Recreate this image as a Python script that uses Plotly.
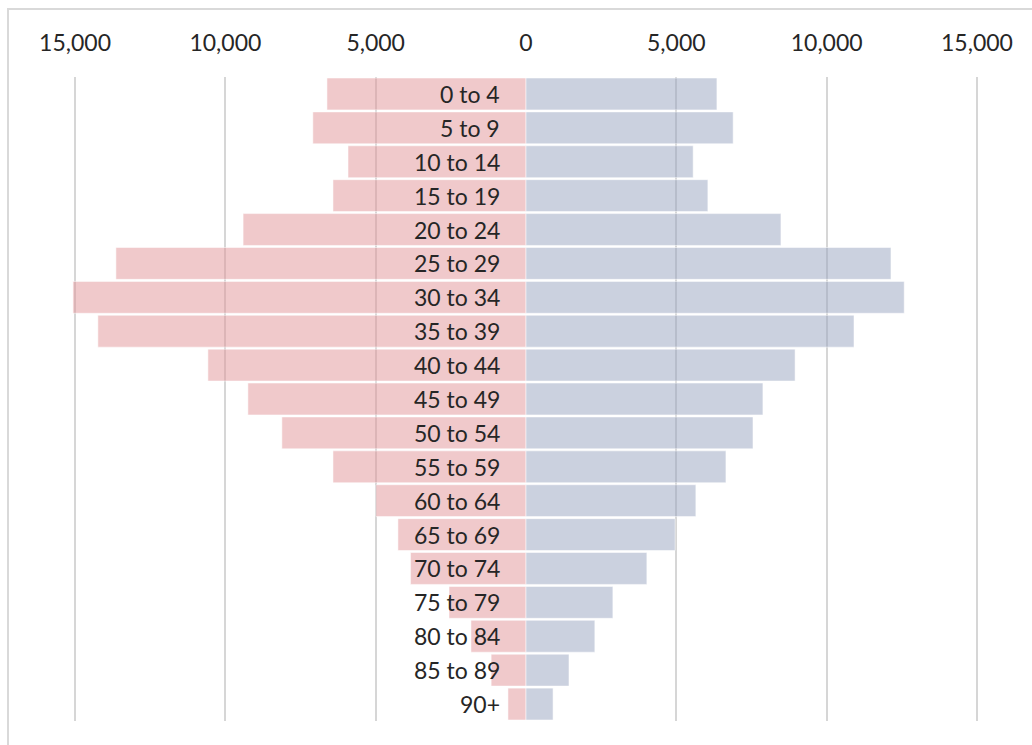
import plotly.graph_objects as go

# Age groups, youngest at the top
age_groups = ["0 to 4", "5 to 9", "10 to 14", "15 to 19", "20 to 24", "25 to 29",
              "30 to 34", "35 to 39", "40 to 44", "45 to 49", "50 to 54", "55 to 59",
              "60 to 64", "65 to 69", "70 to 74", "75 to 79", "80 to 84", "85 to 89", "90+"]

# Population counts per age group
female = [6620, 7090, 5920, 6420, 9410, 13640, 15070, 14240, 10580, 9250,
          8120, 6420, 4990, 4260, 3840, 2560, 1830, 1160, 600]
male = [6350, 6890, 5560, 6050, 8480, 12140, 12580, 10910, 8950, 7880,
        7550, 6650, 5650, 4960, 4020, 2890, 2290, 1430, 900]

# Axis ticks (left side shown as positive numbers)
tick_values = [-15000, -10000, -5000, 0, 5000, 10000, 15000]
tick_labels = ["15,000", "10,000", "5,000", "0", "5,000", "10,000", "15,000"]

FONT = "Lato"
TEXT = "#262626"
GRID = "#d6d6d6"

fig = go.Figure()
fig.add_trace(go.Bar(
    y=age_groups, x=[-v for v in female], orientation="h", name="Female",
    marker=dict(color="rgba(225,147,151,0.5)",
                line=dict(color="rgba(255,255,255,0.5)", width=1)),
))
fig.add_trace(go.Bar(
    y=age_groups, x=male, orientation="h", name="Male",
    marker=dict(color="rgba(151,163,191,0.5)",
                line=dict(color="rgba(255,255,255,0.5)", width=1)),
))

# Age labels sit just left of the centre line, over the bars
for g in age_groups:
    fig.add_annotation(x=0, y=g, xref="x", yref="y", text=g, showarrow=False,
                       xanchor="right", yanchor="middle", xshift=-24,
                       font=dict(family=FONT, size=23, color=TEXT))

# Chart frame
L, R, T, B = 60, 40, 77, 24
W, H = 1032, 745
pw, ph = W - L - R, H - T - B
fig.add_shape(type="rect", xref="paper", yref="paper",
              x0=(8 - L) / pw, x1=(W + 10 - L) / pw,
              y0=-(B + 10) / ph, y1=(H - B - 9) / ph,
              line=dict(color="#d9d9d9", width=2), layer="below")

fig.update_layout(
    width=W, height=H,
    margin=dict(l=L, r=R, t=T, b=B),
    paper_bgcolor="white", plot_bgcolor="white",
    barmode="overlay", bargap=0.06, showlegend=False,
    font=dict(family=FONT, color=TEXT),
    xaxis=dict(
        side="top", range=[-15500, 15500],
        tickvals=tick_values, ticktext=tick_labels,
        tickfont=dict(family=FONT, size=23, color=TEXT),
        showgrid=True, gridcolor=GRID, gridwidth=2,
        zeroline=True, zerolinecolor="white", zerolinewidth=1,
        showline=False, ticks="", ticklabelstandoff=20,
    ),
    yaxis=dict(
        autorange="reversed", showticklabels=False, showgrid=False,
        zeroline=False, showline=False, ticks="",
    ),
)

fig.write_html("out.html")
